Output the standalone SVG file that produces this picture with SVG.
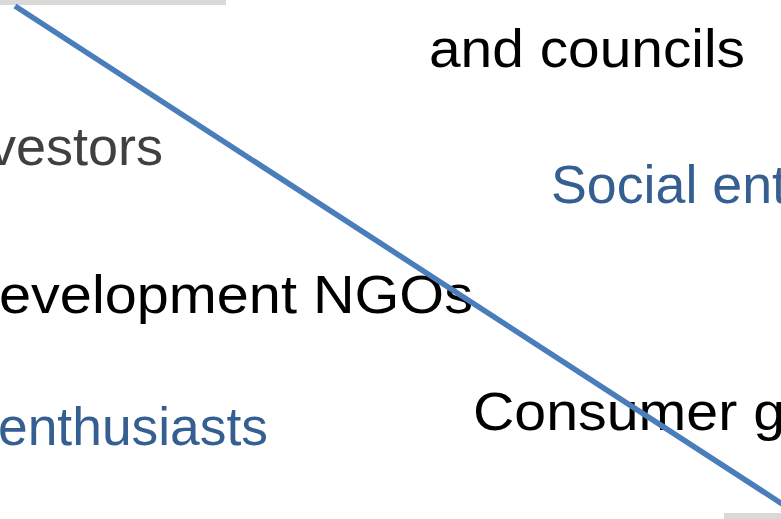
<svg xmlns="http://www.w3.org/2000/svg" width="781" height="519" viewBox="0 0 781 519">
  <style>
    .t { font-family: "Liberation Sans", Arial, sans-serif; font-size: 54px; }
    .black { fill: #000000; }
    .gray { fill: #404040; }
    .blue { fill: #365F91; }
    .bar { fill: #D9D9D9; }
    .divider { stroke: #4A7EBB; stroke-width: 5.5; fill: none; }
  </style>
  <rect width="781" height="519" fill="#FFFFFF"/>
  <g id="bars">
    <rect class="bar" x="0" y="0" width="226" height="5"/>
    <rect class="bar" x="724" y="513" width="57" height="6"/>
  </g>
  <g id="node-councils">
    <text class="t black" x="429" y="67" textLength="316" lengthAdjust="spacingAndGlyphs">and councils</text>
  </g>
  <g id="node-investors">
    <text class="t gray" x="-11" y="165" textLength="174" lengthAdjust="spacingAndGlyphs">vestors</text>
  </g>
  <g id="node-social">
    <text class="t blue" x="551" y="203" textLength="236" lengthAdjust="spacingAndGlyphs">Social ent</text>
  </g>
  <g id="node-ngos">
    <text class="t black" x="-1" y="313" textLength="474" lengthAdjust="spacingAndGlyphs">evelopment NGOs</text>
  </g>
  <g id="node-consumer">
    <text class="t black" x="473" y="430" textLength="312" lengthAdjust="spacingAndGlyphs">Consumer g</text>
  </g>
  <g id="node-enthusiasts">
    <text class="t blue" x="-2" y="445" textLength="270" lengthAdjust="spacingAndGlyphs">enthusiasts</text>
  </g>
  <g id="connectors">
    <line class="divider" x1="15" y1="6" x2="790" y2="509"/>
  </g>
</svg>
